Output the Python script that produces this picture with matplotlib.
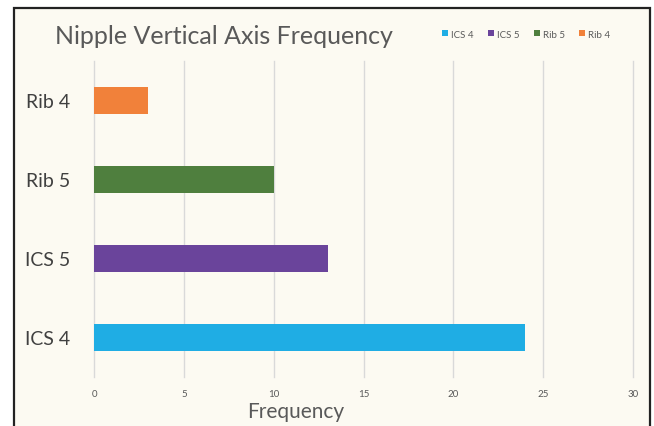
import matplotlib.pyplot as plt
from matplotlib.patches import Rectangle

# data
categories = ["ICS 4", "ICS 5", "Rib 5", "Rib 4"]
frequency = [24, 13, 10, 3]
colors = ["#1FADE4", "#6A449B", "#4F7F3E", "#F1813A"]
x_ticks = [0, 5, 10, 15, 20, 25, 30]

W, H = 654, 427
bg = "#FCFAF2"

fig = plt.figure(figsize=(W / 100, H / 100), dpi=100)
fig.patch.set_facecolor("white")

# panel background and frame (bottom edge runs off the image)
fig.patches.append(Rectangle((13.5 / W, -0.05), (650 - 13.5) / W, 1.05 - 8.5 / H,
                             transform=fig.transFigure, facecolor=bg,
                             edgecolor="#222222", linewidth=1.6, zorder=-1))

ax = fig.add_axes([94 / W, 1 - 378 / H, (633 - 94) / W, (378 - 62) / H])
ax.set_facecolor("none")

bars = ax.barh(categories, frequency, height=0.35, color=colors, zorder=3)

ax.set_xlim(0, 30)
ax.set_ylim(-0.5, 3.5)
ax.set_xticks(x_ticks)
ax.set_xticklabels([str(t) for t in x_ticks], fontsize=7, color="#595959",
                   family="Lato")
ax.tick_params(axis="x", length=0, pad=9)
ax.tick_params(axis="y", length=0, pad=17, labelsize=14, labelcolor="#404040")
for lbl in ax.get_yticklabels():
    lbl.set_family("Lato")
ax.grid(axis="x", color="#D9D9D9", linewidth=1.0, zorder=0)
for gl in ax.get_xgridlines():
    gl.set_clip_on(False)
for s in ax.spines.values():
    s.set_visible(False)

fig.text(296 / W, 1 - 412 / H, "Frequency", ha="center", va="center",
         fontsize=15, color="#595959", family="Lato")
fig.text(55 / W, 1 - 37 / H, "Nipple Vertical Axis Frequency", ha="left",
         va="center", fontsize=18, color="#595959", family="Lato")

# legend
fig.legend(bars, categories, loc="center", bbox_to_anchor=(526 / W, 1 - 35 / H),
           ncol=4, frameon=False, prop={"family": "Lato", "size": 7},
           labelcolor="#595959", handlelength=0.6, handleheight=0.6,
           handletextpad=0.3, columnspacing=1.5)

fig.savefig("out.png", dpi=100, facecolor=fig.get_facecolor())
